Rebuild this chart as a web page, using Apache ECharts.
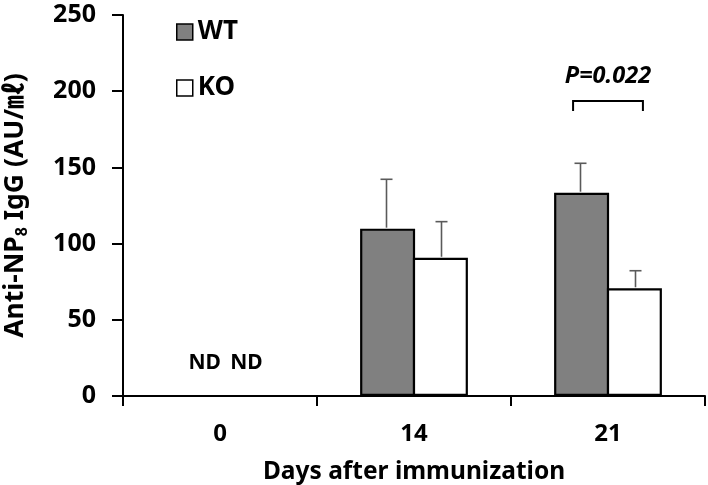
<!DOCTYPE html>
<html>
<head>
<meta charset="utf-8">
<script src="https://cdn.jsdelivr.net/npm/echarts@6/dist/echarts.min.js"></script>
<style>html,body{margin:0;padding:0;background:#fff;}#c{width:708px;height:485px;}</style>
</head>
<body>
<div id="c"></div>
<script>
const days = ['0', '14', '21'];
const wtMean = [0, 109.8, 133.4];
const wtSem = [0, 32.4, 19.3];
const koMean = [0, 90.7, 70.7];
const koSem = [0, 23.7, 11.5];
const detected = [false, true, true];
const yTicks = [0, 50, 100, 150, 200, 250];
const pCategory = 2;
const pBracketY = 193.6;
const pLegY = 187;
const pTextY = 210;
const pLabel = 'P=0.022';

const FONT = '"Noto Sans", "Noto Sans CJK KR", sans-serif';
const BAR_FRAC = 0.2835;

const chart = echarts.init(document.getElementById('c'), null, {renderer: 'canvas'});

function errorSeries(name, means, sems, sign) {
  return {
    type: 'custom',
    name: name + ' err',
    z: 1,
    silent: true,
    data: means.map((m, i) => [i, m, m + sems[i], detected[i] ? 1 : 0]),
    encode: {x: 0, y: [1, 2]},
    renderItem: function (params, api) {
      if (!api.value(3)) return;
      const idx = api.value(0);
      const band = api.size([1, 0])[0];
      const off = sign * band * BAR_FRAC / 2;
      const base = api.coord([idx, api.value(1)]);
      const top = api.coord([idx, api.value(2)]);
      const x = base[0] + off;
      const cap = 6;
      const style = {stroke: '#5a5a5a', lineWidth: 1.6, fill: null};
      return {
        type: 'group',
        children: [
          {type: 'line', shape: {x1: x, y1: base[1] - 1, x2: x, y2: top[1]}, style: style},
          {type: 'line', shape: {x1: x - cap, y1: top[1], x2: x + cap, y2: top[1]}, style: style}
        ]
      };
    }
  };
}

const option = {
  animation: false,
  backgroundColor: '#fff',
  textStyle: {fontFamily: FONT},
  grid: {left: 123, right: 3, top: 15, bottom: 89, containLabel: false, outerBoundsMode: 'none'},
  legend: {
    data: ['WT', 'KO'],
    orient: 'vertical',
    left: 171,
    top: 14,
    itemWidth: 16,
    itemHeight: 16,
    itemGap: 30,
    itemTextGap: 6,
    icon: 'rect',
    itemStyle: {borderWidth: 1.5, borderColor: '#000'},
    textStyle: {fontFamily: FONT, fontWeight: 'bold', fontSize: 26, color: '#000'}
  },
  xAxis: {
    type: 'category',
    data: days,
    boundaryGap: true,
    name: 'Days after immunization',
    nameLocation: 'middle',
    nameGap: 64,
    nameTextStyle: {fontFamily: FONT, fontWeight: 'bold', fontSize: 24.5, color: '#000'},
    axisLine: {lineStyle: {color: '#000', width: 2}},
    axisTick: {show: true, length: 10, lineStyle: {color: '#000', width: 2}},
    axisLabel: {fontFamily: FONT, fontWeight: 'bold', fontSize: 24, color: '#000', margin: 26}
  },
  yAxis: {
    type: 'value',
    min: 0,
    max: 250,
    interval: 50,
    name: 'Anti-NP{sub|8} IgG (AU/㎖)',
    nameLocation: 'middle',
    nameRotate: 90,
    nameGap: 93,
    nameTextStyle: {
      fontFamily: FONT, fontWeight: 'bold', fontSize: 26.5, color: '#000',
      rich: {sub: {fontFamily: FONT, fontWeight: 'bold', fontSize: 16, color: '#000', padding: [14, 0, 0, 0]}}
    },
    splitLine: {show: false},
    axisLine: {show: true, lineStyle: {color: '#000', width: 2}},
    axisTick: {show: true, length: 11, lineStyle: {color: '#000', width: 2}},
    axisLabel: {fontFamily: FONT, fontWeight: 'bold', fontSize: 25, color: '#000', margin: 27,
      formatter: v => yTicks.includes(v) ? String(v) : ''}
  },
  series: [
    {
      name: 'WT',
      type: 'bar',
      barWidth: (BAR_FRAC * 100) + '%',
      barGap: '-4%',
      z: 2,
      itemStyle: {color: '#808080', borderColor: '#000', borderWidth: 2.2},
      data: wtMean.map((v, i) => ({
        value: v,
        itemStyle: detected[i] ? undefined : {borderWidth: 0},
        label: detected[i] ? {show: false} : {
          show: true, position: 'top', distance: 22, offset: [11, 0], formatter: 'ND',
          fontFamily: FONT, fontWeight: 'bold', fontSize: 21, color: '#000'
        }
      }))
    },
    {
      name: 'KO',
      type: 'bar',
      barWidth: (BAR_FRAC * 100) + '%',
      barGap: '-4%',
      z: 2,
      itemStyle: {color: '#fff', borderColor: '#000', borderWidth: 2.2},
      data: koMean.map((v, i) => ({
        value: v,
        itemStyle: detected[i] ? undefined : {borderWidth: 0},
        label: detected[i] ? {show: false} : {
          show: true, position: 'top', distance: 22, offset: [0, 0], formatter: 'ND',
          fontFamily: FONT, fontWeight: 'bold', fontSize: 21, color: '#000'
        }
      }))
    },
    errorSeries('WT', wtMean, wtSem, -1),
    errorSeries('KO', koMean, koSem, 1),
    {
      type: 'custom',
      name: 'pvalue',
      silent: true,
      z: 3,
      data: [[pCategory, pBracketY, pLegY, pTextY]],
      encode: {x: 0, y: [1, 2, 3]},
      renderItem: function (params, api) {
        const idx = api.value(0);
        const band = api.size([1, 0])[0];
        const half = band * 0.18;
        const top = api.coord([idx, api.value(1)]);
        const leg = api.coord([idx, api.value(2)]);
        const txt = api.coord([idx, api.value(3)]);
        const style = {stroke: '#000', lineWidth: 2, fill: null};
        return {
          type: 'group',
          children: [
            {type: 'polyline', shape: {points: [[top[0] - half, leg[1]], [top[0] - half, top[1]], [top[0] + half, top[1]], [top[0] + half, leg[1]]]}, style: style},
            {type: 'text', x: txt[0], y: txt[1], style: {text: pLabel, align: 'center', verticalAlign: 'middle',
              font: 'italic bold 23.5px ' + FONT, fill: '#000'}}
          ]
        };
      }
    }
  ]
};
chart.setOption(option);
</script>
</body>
</html>
